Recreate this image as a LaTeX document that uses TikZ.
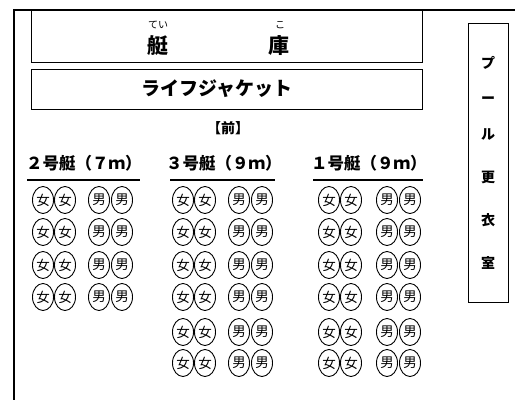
\documentclass[tikz,border=0pt]{standalone}
\usepackage{fontspec}
\setmainfont{Noto Sans CJK JP}
\usetikzlibrary{shapes.geometric}
\tikzset{
  frame/.style={line width=2.6pt},
  box/.style={draw, line width=1.2pt},
  seat/.style={draw, ellipse, line width=0.9pt, minimum width=21pt, minimum height=27pt, inner sep=0pt, font=\fontsize{13.5}{13.5}\selectfont},
  grp/.style={font=\fontsize{16.5}{17}\selectfont\bfseries, inner sep=0pt},
  uline/.style={line width=2pt},
  vtxt/.style={font=\fontsize{14}{14}\selectfont\bfseries, inner sep=0pt}
}
\begin{document}
\begin{tikzpicture}[x=1pt,y=-1pt]
\useasboundingbox (0,0) rectangle (515,400);
% outer frame
\coordinate (ftr) at (515,10);
\coordinate (ftl) at (14,10);
\coordinate (fbl) at (14,400);
\draw[frame] (ftr) -- (ftl) -- (fbl);
% boat garage
\node[box, minimum width=391pt, minimum height=52pt, anchor=north west, inner sep=0pt] (garage) at (31,10) {};
\node[font=\fontsize{21}{21}\selectfont\bfseries, inner sep=0pt] (tei) at (158,46) {艇};
\node[font=\fontsize{21}{21}\selectfont\bfseries, inner sep=0pt] (ko) at (279,46) {庫};
\node[font=\fontsize{10}{10}\selectfont, inner sep=0pt] (teiruby) at (158,25) {てい};
\node[font=\fontsize{10}{10}\selectfont, inner sep=0pt] (koruby) at (280,25) {こ};
% life jacket
\node[box, minimum width=391pt, minimum height=40pt, anchor=north west, inner sep=0pt] (lj) at (31,69) {};
\node[font=\fontsize{19}{19}\selectfont\bfseries, inner sep=0pt] (ljt) at (217,89) {ライフジャケット};
\node[font=\fontsize{14}{14}\selectfont\bfseries, inner sep=0pt] (mae) at (228,128) {【前】};
% pool changing room
\node[box, minimum width=40pt, minimum height=279pt, anchor=north west, inner sep=0pt] (pool) at (468,23) {};
\foreach \c/\y [count=\i] in {プ/63, ー/100, ル/135, 更/177, 衣/220, 室/263}
  \node[vtxt] (pv\i) at (488,\y) {\c};
% group labels
\node[grp, anchor=west] (g2) at (26,163) {２号艇（７ｍ）};
\node[grp, anchor=west] (g3) at (166,163) {３号艇（９ｍ）};
\node[grp, anchor=west] (g1) at (311,163) {１号艇（９ｍ）};
\coordinate (u2a) at (27,180); \coordinate (u2b) at (140,180);
\coordinate (u3a) at (170,180); \coordinate (u3b) at (275,180);
\coordinate (u1a) at (313,180); \coordinate (u1b) at (423,180);
\draw[uline] (u2a) -- (u2b);
\draw[uline] (u3a) -- (u3b);
\draw[uline] (u1a) -- (u1b);
% seats
\foreach \y [count=\r] in {200,232,265,297} {
  \node[seat] (s2-\r-1) at (43,\y) {女};
  \node[seat] (s2-\r-2) at (65,\y) {女};
  \node[seat] (s2-\r-3) at (99,\y) {男};
  \node[seat] (s2-\r-4) at (122,\y) {男};
}
\foreach \y [count=\r] in {200,232,265,297,332,363} {
  \node[seat] (s3-\r-1) at (183,\y) {女};
  \node[seat] (s3-\r-2) at (205,\y) {女};
  \node[seat] (s3-\r-3) at (239,\y) {男};
  \node[seat] (s3-\r-4) at (262,\y) {男};
  \node[seat] (s1-\r-1) at (329,\y) {女};
  \node[seat] (s1-\r-2) at (351,\y) {女};
  \node[seat] (s1-\r-3) at (387,\y) {男};
  \node[seat] (s1-\r-4) at (410,\y) {男};
}
\end{tikzpicture}
\end{document}
